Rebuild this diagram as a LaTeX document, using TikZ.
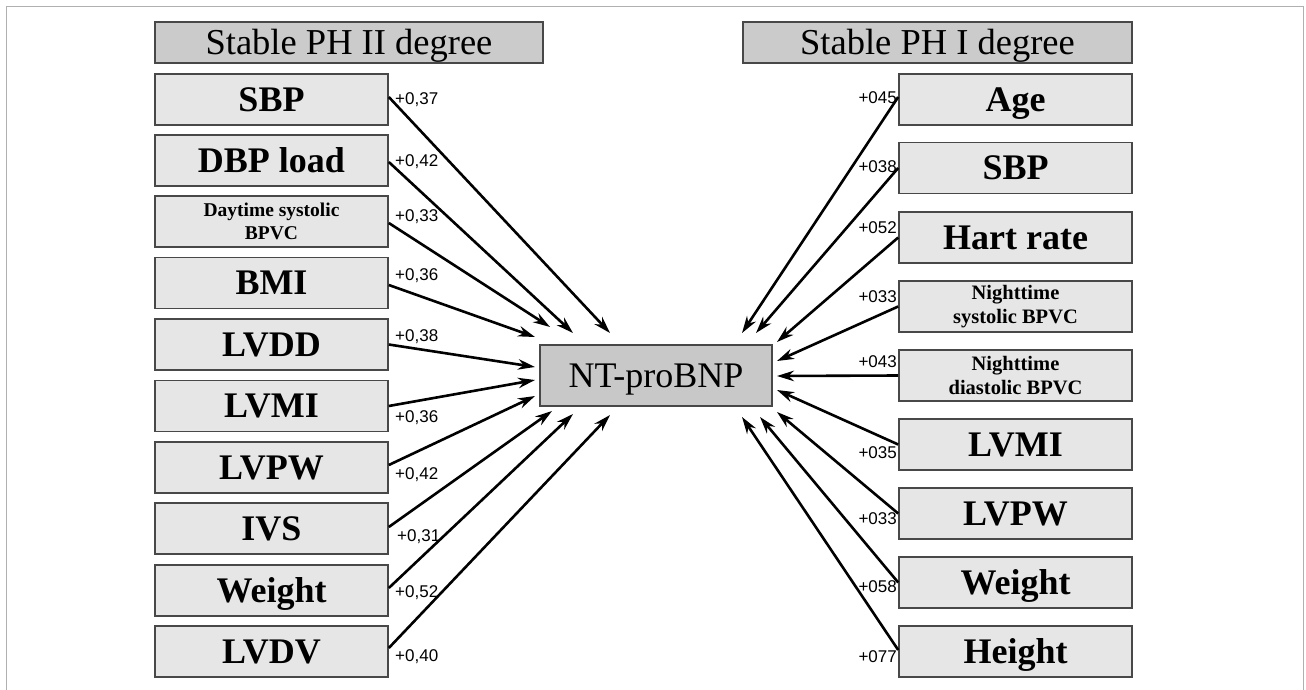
\documentclass[tikz,border=0pt]{standalone}
\usepackage{fontspec}
\setmainfont{Liberation Serif}
\newfontfamily\labfont{Liberation Sans}
\usetikzlibrary{arrows.meta}
\definecolor{hdr}{HTML}{CBCBCB}
\definecolor{itm}{HTML}{E6E6E6}
\definecolor{ctr}{HTML}{C8C8C8}
\definecolor{edgec}{HTML}{484848}
\definecolor{frm}{HTML}{B0B0B0}
\begin{document}
\begin{tikzpicture}[x=1pt,y=-1pt,
  box/.style={draw=edgec,line width=1.6pt,inner sep=0pt,minimum width=233pt,minimum height=51pt,fill=itm,align=center},
  big/.style={box,font=\fontsize{36}{38}\selectfont\bfseries,text height=23.5pt,text depth=0pt},
  small/.style={box,font=\fontsize{20.5}{23.5}\selectfont\bfseries},
  hdrbox/.style={draw=edgec,line width=1.6pt,fill=hdr,minimum height=41pt,inner sep=0pt,font=\fontsize{36.5}{38}\selectfont,text height=23.5pt,text depth=0pt},
  lbl/.style={font=\labfont\fontsize{17}{18}\selectfont,inner sep=0pt},
  arr/.style={line width=2.6pt,-{Stealth[length=17pt,width=10.5pt]}}]
\useasboundingbox (0,0) rectangle (1306,690);
\draw[frm,line width=1.5pt] (6.5,690) -- (6.5,6.5) -- (1303.5,6.5) -- (1303.5,690);

% headers
\node[hdrbox,minimum width=388pt] (HL) at (349,42.5) {Stable PH II degree};
\node[hdrbox,minimum width=389pt] (HR) at (937.5,42.5) {Stable PH I degree};

% center
\node[draw=edgec,line width=1.6pt,fill=ctr,minimum width=232pt,minimum height=61pt,inner sep=0pt,font=\fontsize{36}{38}\selectfont,text height=24pt,text depth=0pt] (C) at (656,375.5) {NT-proBNP};

% left boxes
\node[big] (L1) at (271.5,99.5) {SBP};
\node[big] (L2) at (271.5,160.5) {DBP load};
\node[small,font=\fontsize{19.5}{22.5}\selectfont\bfseries] (L3) at (271.5,221.5) {Daytime systolic\\BPVC};
\node[big] (L4) at (271.5,283) {BMI};
\node[big] (L5) at (271.5,344.5) {LVDD};
\node[big] (L6) at (271.5,406) {LVMI};
\node[big] (L7) at (271.5,467.5) {LVPW};
\node[big] (L8) at (271.5,528.5) {IVS};
\node[big] (L9) at (271.5,590.5) {Weight};
\node[big] (L10) at (271.5,651.5) {LVDV};

% right boxes
\node[big] (R1) at (1015.5,99.5) {Age};
\node[big] (R2) at (1015.5,168) {SBP};
\node[big] (R3) at (1015.5,237.5) {Hart rate};
\node[small] (R4) at (1015.5,306.5) {Nighttime\\systolic BPVC};
\node[small] (R5) at (1015.5,375.5) {Nighttime\\diastolic BPVC};
\node[big] (R6) at (1015.5,444.5) {LVMI};
\node[big] (R7) at (1015.5,513.5) {LVPW};
\node[big] (R8) at (1015.5,582.5) {Weight};
\node[big] (R9) at (1015.5,651.5) {Height};

% arrow tips
\coordinate (tL1) at (610,333);
\coordinate (tL2) at (573,333);
\coordinate (tL3) at (550,327);
\coordinate (tL4) at (535,337);
\coordinate (tL5) at (535,367);
\coordinate (tL6) at (535,380);
\coordinate (tL7) at (535,396);
\coordinate (tL8) at (552,411);
\coordinate (tL9) at (573,414);
\coordinate (tL10) at (610,415);
\coordinate (tR1) at (742,333);
\coordinate (tR2) at (756,333);
\coordinate (tR3) at (777,342);
\coordinate (tR4) at (777,361);
\coordinate (tR5) at (777,376);
\coordinate (tR6) at (777,390);
\coordinate (tR7) at (777,412);
\coordinate (tR8) at (760,417);
\coordinate (tR9) at (742,417);

% arrows left
\draw[arr] ([yshift=2.5pt]L1.east) -- (tL1);
\draw[arr] ([yshift=-1.5pt]L2.east) -- (tL2);
\draw[arr] ([yshift=-1.5pt]L3.east) -- (tL3);
\draw[arr] ([yshift=-2pt]L4.east) -- (tL4);
\draw[arr] (L5.east) -- (tL5);
\draw[arr] (L6.east) -- (tL6);
\draw[arr] ([yshift=2.5pt]L7.east) -- (tL7);
\draw[arr] ([yshift=1.5pt]L8.east) -- (tL8);
\draw[arr] ([yshift=2.5pt]L9.east) -- (tL9);
\draw[arr] ([yshift=3.5pt]L10.east) -- (tL10);

% arrows right
\draw[arr] ([yshift=2.5pt]R1.west) -- (tR1);
\draw[arr] (R2.west) -- (tR2);
\draw[arr] (R3.west) -- (tR3);
\draw[arr] (R4.west) -- (tR4);
\draw[arr] (R5.west) -- (tR5);
\draw[arr] (R6.west) -- (tR6);
\draw[arr] (R7.west) -- (tR7);
\draw[arr] (R8.west) -- (tR8);
\draw[arr] ([yshift=1.5pt]R9.west) -- (tR9);

% left labels
\node[lbl,anchor=west] (a1) at (395,100) {+0,37};
\node[lbl,anchor=west] (a2) at (395,162) {+0,42};
\node[lbl,anchor=west] (a3) at (395,217) {+0,33};
\node[lbl,anchor=west] (a4) at (395,276) {+0,36};
\node[lbl,anchor=west] (a5) at (395,337) {+0,38};
\node[lbl,anchor=west] (a6) at (395,418) {+0,36};
\node[lbl,anchor=west] (a7) at (395,475) {+0,42};
\node[lbl,anchor=west] (a8) at (397,537) {+0,31};
\node[lbl,anchor=west] (a9) at (395,593) {+0,52};
\node[lbl,anchor=west] (a10) at (395,657) {+0,40};

% right labels
\node[lbl,anchor=east] (b1) at (897,98) {+045};
\node[lbl,anchor=east] (b2) at (897,167) {+038};
\node[lbl,anchor=east] (b3) at (897,228) {+052};
\node[lbl,anchor=east] (b4) at (897,297) {+033};
\node[lbl,anchor=east] (b5) at (897,362) {+043};
\node[lbl,anchor=east] (b6) at (897,453) {+035};
\node[lbl,anchor=east] (b7) at (897,519) {+033};
\node[lbl,anchor=east] (b8) at (897,587) {+058};
\node[lbl,anchor=east] (b9) at (897,657) {+077};
\end{tikzpicture}
\end{document}
